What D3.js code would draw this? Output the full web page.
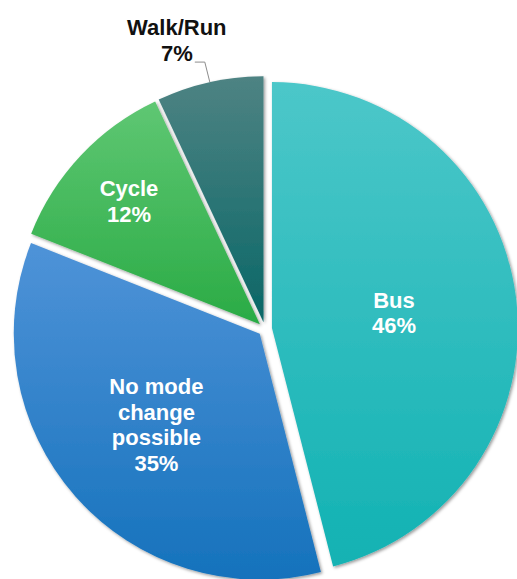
<!DOCTYPE html>
<html>
<head>
<meta charset="utf-8">
<script src="https://cdn.jsdelivr.net/npm/d3@7/dist/d3.min.js"></script>
<style>
  html, body { margin: 0; padding: 0; background: #ffffff; }
  svg { display: block; }
  text { font-family: "Liberation Sans", Arial, sans-serif; font-weight: bold; }
</style>
</head>
<body>
<svg id="chart" width="517" height="579"></svg>
<script>
// Mode-shift shares, drawn clockwise from 12 o'clock
const categories = ["Bus", "No mode change possible", "Cycle", "Walk/Run"];
const shares = [46, 35, 12, 7];
const labelLines = [["Bus"], ["No mode", "change", "possible"], ["Cycle"], ["Walk/Run"]];

// Slice gradient stops (top, bottom)
const topColors = ["#4cc7c9", "#4f93d8", "#5fc773", "#4e8383"];
const bottomColors = ["#12b2b3", "#1572bc", "#2aab45", "#0a6767"];

const width = 517, height = 579;
const cx = 265, cy = 329, radius = 246, explode = 7;

const svg = d3.select("#chart");
const defs = svg.append("defs");

categories.forEach((c, i) => {
  const g = defs.append("linearGradient")
    .attr("id", "grad" + i)
    .attr("x1", 0).attr("y1", 0).attr("x2", 0).attr("y2", 1);
  g.append("stop").attr("offset", "0%").attr("stop-color", topColors[i]);
  g.append("stop").attr("offset", "100%").attr("stop-color", bottomColors[i]);
});

const shadow = defs.append("filter").attr("id", "shadow")
  .attr("x", "-10%").attr("y", "-10%").attr("width", "120%").attr("height", "120%");
shadow.append("feDropShadow")
  .attr("dx", 1.5).attr("dy", 1.5).attr("stdDeviation", 1.6)
  .attr("flood-color", "#000").attr("flood-opacity", 0.4);

const pie = d3.pie().sort(null).value(d => d).startAngle(0).endAngle(2 * Math.PI);
const arcs = pie(shares);
const arc = d3.arc().innerRadius(0).outerRadius(radius);

const root = svg.append("g").attr("transform", `translate(${cx},${cy})`);

// Each slice pushed out from the centre along its mid angle
function offset(d) {
  const a = (d.startAngle + d.endAngle) / 2;
  return [Math.sin(a) * explode, -Math.cos(a) * explode];
}

root.selectAll("path.slice")
  .data(arcs)
  .join("path")
  .attr("class", "slice")
  .attr("transform", d => `translate(${offset(d)})`)
  .attr("d", arc)
  .attr("fill", (d, i) => `url(#grad${i})`)
  .attr("filter", "url(#shadow)");

// Label placement: fraction of the radius along each slice's mid angle
const labelFrac = [0.5, 0.56, 0.73, null];
const fontSize = 22, lineGap = 25.5;

arcs.forEach((d, i) => {
  const a = (d.startAngle + d.endAngle) / 2;
  const [ox, oy] = offset(d);
  const lines = labelLines[i].concat([shares[i] + "%"]);
  if (labelFrac[i] !== null) {
    const r = radius * labelFrac[i];
    const x = ox + Math.sin(a) * r;
    const y = oy - Math.cos(a) * r;
    const t = root.append("text")
      .attr("text-anchor", "middle")
      .attr("fill", "#ffffff")
      .style("font-size", fontSize + "px");
    const y0 = y - (lines.length - 1) * lineGap / 2 + fontSize * 0.36;
    lines.forEach((ln, k) => {
      t.append("tspan").attr("x", x).attr("y", y0 + k * lineGap).text(ln);
    });
  } else {
    // Small slice: label outside with a leader line
    const ex = ox + Math.sin(a) * radius;
    const ey = oy - Math.cos(a) * radius;
    const bx = ex - 5, by = ey - 20;
    root.append("path")
      .attr("d", `M${ex},${ey}L${bx},${by}L${bx - 10},${by}`)
      .attr("fill", "none")
      .attr("stroke", "#8c8c8c")
      .attr("stroke-width", 1);
    const x = bx - 28;
    const t = root.append("text")
      .attr("text-anchor", "middle")
      .attr("fill", "#111111")
      .style("font-size", fontSize + "px");
    lines.forEach((ln, k) => {
      t.append("tspan").attr("x", x).attr("y", by - 27 + k * 26).text(ln);
    });
  }
});
</script>
</body>
</html>
